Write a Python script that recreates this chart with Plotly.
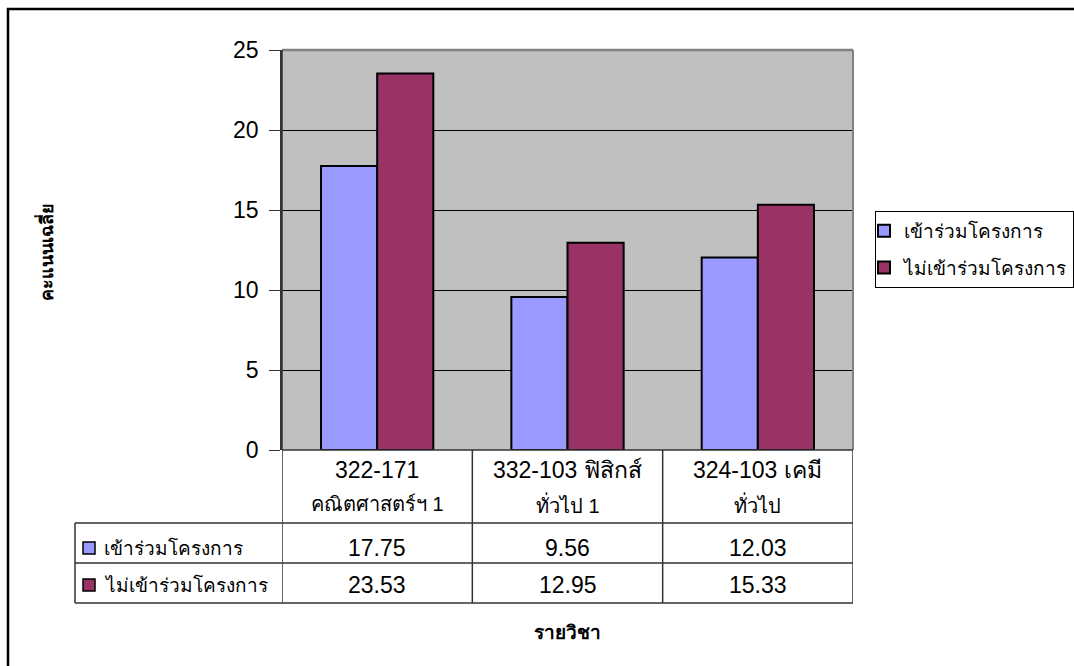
import plotly.graph_objects as go

# Subjects (category header lines) and mean scores per group
subject_line1 = ["322-171", "332-103 ฟิสิกส์", "324-103 เคมี"]
subject_line2 = ["คณิตศาสตร์ฯ 1", "ทั่วไป 1", "ทั่วไป"]
series_names = ["เข้าร่วมโครงการ", "ไม่เข้าร่วมโครงการ"]
joined = [17.75, 9.56, 12.03]
not_joined = [23.53, 12.95, 15.33]
y_ticks = [0, 5, 10, 15, 20, 25]

colors = ["#9999FF", "#993366"]
FONT = "Arial, Liberation Sans, Tahoma, sans-serif"
W, H = 1074, 666
L, R, T, B = 282, 221, 50, 216
PW, PH = W - L - R, H - T - B


def px(xp):
    return (xp - L) / PW


def py(yp):
    return (H - B - yp) / PH


fig = go.Figure()
x_idx = list(range(len(subject_line1)))
for k, (name, vals, col) in enumerate(zip(series_names, [joined, not_joined], colors)):
    fig.add_trace(go.Bar(
        x=x_idx, y=vals, name=name, legendgroup=f"g{k}",
        marker=dict(color=col, line=dict(color="black", width=2)),
    ))

fig.update_layout(
    width=W, height=H,
    margin=dict(l=L, r=R, t=T, b=B, autoexpand=False),
    paper_bgcolor="white", plot_bgcolor="#C0C0C0",
    barmode="group", bargap=0.41, bargroupgap=0,
    font=dict(family=FONT, color="black", size=21),
    showlegend=True,
    legend=dict(
        x=px(875), y=py(211), xanchor="left", yanchor="top",
        bordercolor="black", borderwidth=1, bgcolor="white",
        font=dict(size=19, family=FONT), tracegroupgap=9,
        indentation=-12, itemwidth=30,
    ),
    xaxis=dict(
        range=[-0.5, 2.5], tickvals=x_idx, showticklabels=False,
        showgrid=False, zeroline=False, ticks="", showline=False,
    ),
    yaxis=dict(
        range=[0, 25], tickvals=y_ticks, showgrid=True, gridcolor="black",
        gridwidth=1, zeroline=False, ticks="outside", ticklen=11,
        tickcolor="#333333", showline=True, linecolor="#333333", linewidth=1.5,
        tickfont=dict(size=23), ticklabelstandoff=6,
    ),
)

shapes = []
line_c = "#333333"
# plot-area border (gray top/right edges)
shapes.append(dict(type="line", xref="paper", yref="paper", x0=0, x1=1, y0=1, y1=1,
                   line=dict(color="#808080", width=2.5), layer="above"))
shapes.append(dict(type="line", xref="paper", yref="paper", x0=1, x1=1, y0=0, y1=1,
                   line=dict(color="#808080", width=2), layer="above"))
shapes.append(dict(type="line", xref="paper", yref="paper", x0=0, x1=0, y0=0, y1=1,
                   line=dict(color="#333333", width=1.5), layer="above"))

# data table grid
tbl_left = px(75)
row_tops = [py(523), py(563), py(603)]
for yv in [0] + row_tops:
    x0 = 0 if yv == 0 else tbl_left
    shapes.append(dict(type="line", xref="paper", yref="paper", x0=x0, x1=1, y0=yv, y1=yv,
                       line=dict(color=line_c, width=1.5)))
for xb in [-0.5, 0.5, 1.5, 2.5]:
    shapes.append(dict(type="line", xref="x", yref="paper", x0=xb, x1=xb, y0=0, y1=row_tops[-1],
                       line=dict(color=line_c, width=1.5)))
shapes.append(dict(type="line", xref="paper", yref="paper", x0=tbl_left, x1=tbl_left,
                   y0=row_tops[0], y1=row_tops[-1], line=dict(color=line_c, width=1.5)))

annotations = []
# category header cells
for i, (a, b) in enumerate(zip(subject_line1, subject_line2)):
    annotations.append(dict(text=a, xref="x", yref="paper", x=i, y=py(470),
                            xanchor="center", yanchor="middle", showarrow=False,
                            font=dict(size=23)))
    annotations.append(dict(text=b, xref="x", yref="paper", x=i, y=py(504),
                            xanchor="center", yanchor="middle", showarrow=False,
                            font=dict(size=20)))

# legend keys inside the data table
row_centers = [py(548), py(585)]
for name, col, yc in zip(series_names, colors, row_centers):
    kx0, kx1 = px(83), px(95)
    half = 6 / PH
    shapes.append(dict(type="rect", xref="paper", yref="paper", x0=kx0, x1=kx1,
                       y0=yc - half, y1=yc + half, fillcolor=col,
                       line=dict(color="black", width=1.5)))
    annotations.append(dict(text=name, xref="paper", yref="paper", x=px(102), y=yc,
                            xanchor="left", yanchor="middle", showarrow=False,
                            font=dict(size=19)))

# table values
for vals, yc in zip([joined, not_joined], row_centers):
    for i, v in enumerate(vals):
        annotations.append(dict(text=f"{v:.2f}", xref="x", yref="paper", x=i, y=yc,
                                xanchor="center", yanchor="middle", showarrow=False,
                                font=dict(size=23)))

# axis titles
annotations.append(dict(text="<b>คะแนนเฉลี่ย</b>", xref="paper", yref="paper",
                        x=px(45), y=py(252), textangle=-90, showarrow=False,
                        xanchor="center", yanchor="middle", font=dict(size=18)))
annotations.append(dict(text="<b>รายวิชา</b>", xref="paper", yref="paper",
                        x=px(567), y=py(632), showarrow=False,
                        xanchor="center", yanchor="middle", font=dict(size=19)))

# outer chart frame (top and left edges visible)
shapes.append(dict(type="rect", xref="paper", yref="paper",
                   x0=px(8), x1=px(1085), y0=py(9), y1=py(680),
                   line=dict(color="black", width=2.5), fillcolor="rgba(0,0,0,0)"))

fig.update_layout(shapes=shapes, annotations=annotations)
fig.write_html("out.html")
